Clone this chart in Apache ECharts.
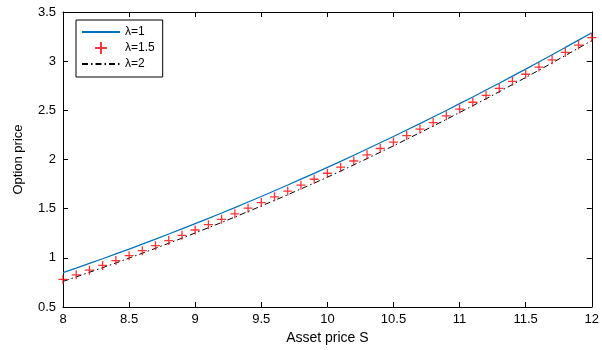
<!DOCTYPE html>
<html>
<head>
<meta charset="utf-8">
<script src="https://cdn.jsdelivr.net/npm/echarts@6/dist/echarts.min.js"></script>
<style>html,body{margin:0;padding:0;background:#fff}#c{width:602px;height:350px}</style>
</head>
<body>
<div id="c"></div>
<script>
var assetPrices = [8.0,8.1,8.2,8.3,8.4,8.5,8.6,8.7,8.8,8.9,9.0,9.1,9.2,9.3,9.4,9.5,9.6,9.7,9.8,9.9,10.0,10.1,10.2,10.3,10.4,10.5,10.6,10.7,10.8,10.9,11.0,11.1,11.2,11.3,11.4,11.5,11.6,11.7,11.8,11.9,12.0];
var lambda1 = [0.850,0.896,0.944,0.991,1.040,1.089,1.140,1.190,1.242,1.294,1.348,1.401,1.456,1.511,1.568,1.624,1.682,1.740,1.800,1.859,1.920,1.981,2.044,2.106,2.170,2.234,2.300,2.365,2.432,2.499,2.568,2.636,2.706,2.776,2.848,2.919,2.992,3.065,3.140,3.214,3.290];
var lambda15 = [0.780,0.827,0.875,0.923,0.972,1.022,1.073,1.124,1.176,1.229,1.283,1.337,1.392,1.448,1.505,1.562,1.620,1.679,1.739,1.799,1.860,1.922,1.985,2.048,2.112,2.177,2.243,2.309,2.376,2.444,2.513,2.582,2.652,2.723,2.795,2.867,2.940,3.014,3.089,3.164,3.240];
var lambda2 = [0.760,0.806,0.853,0.900,0.948,0.997,1.047,1.097,1.148,1.200,1.253,1.306,1.360,1.415,1.471,1.527,1.584,1.642,1.701,1.760,1.820,1.882,1.946,2.009,2.074,2.139,2.206,2.272,2.340,2.408,2.478,2.547,2.618,2.689,2.762,2.834,2.908,2.982,3.058,3.133,3.210];
var seriesNames = ['\u03bb=1','\u03bb=1.5','\u03bb=2'];
var xTicks = {min:8, max:12, interval:0.5};
var yTicks = {min:0.5, max:3.5, interval:0.5};

function pairs(xs, ys){ return xs.map(function(x,i){ return [x, ys[i]]; }); }

var font = 'Liberation Sans, Arial, Helvetica, sans-serif';
var chart = echarts.init(document.getElementById('c'), null, {renderer:'canvas'});
var axisCommon = {
  axisLine:{show:true, lineStyle:{color:'#000', width:1}},
  axisTick:{show:true, inside:true, length:5, lineStyle:{color:'#000'}},
  splitLine:{show:false}
};
chart.setOption({
  animation:false,
  backgroundColor:'#fff',
  grid:{left:63, right:5, top:12, bottom:40, containLabel:false},
  legend:{
    orient:'vertical', left:76, top:20,
    backgroundColor:'#fff', borderColor:'#000', borderWidth:1,
    padding:[6,8,7,5], itemGap:3, itemWidth:38, itemHeight:12,
    textStyle:{fontFamily:font, fontSize:12, color:'#000'},
    data:[
      {name:seriesNames[0], itemStyle:{opacity:0}},
      {name:seriesNames[1]},
      {name:seriesNames[2], itemStyle:{opacity:0}}
    ]
  },
  xAxis:[
    Object.assign({type:'value', min:xTicks.min, max:xTicks.max, interval:xTicks.interval,
      name:'Asset price S', nameLocation:'middle', nameGap:24,
      nameTextStyle:{fontFamily:font, fontSize:14, color:'#000'},
      axisLabel:{fontFamily:font, fontSize:13, color:'#000', margin:6}}, axisCommon),
    Object.assign({type:'value', position:'top', min:xTicks.min, max:xTicks.max, interval:xTicks.interval,
      axisLabel:{show:false}}, axisCommon)
  ],
  yAxis:[
    Object.assign({type:'value', min:yTicks.min, max:yTicks.max, interval:yTicks.interval,
      name:'Option price', nameLocation:'middle', nameGap:38, nameRotate:90,
      nameTextStyle:{fontFamily:font, fontSize:13, color:'#000'},
      axisLabel:{fontFamily:font, fontSize:13, color:'#000', margin:7}}, axisCommon),
    Object.assign({type:'value', position:'right', min:yTicks.min, max:yTicks.max, interval:yTicks.interval,
      axisLabel:{show:false}}, axisCommon)
  ],
  series:[
    {name:seriesNames[0], type:'line', data:pairs(assetPrices, lambda1), symbol:'none',
      lineStyle:{color:'#0072BD', width:1.2}, itemStyle:{color:'#0072BD'}, z:3},
    {name:seriesNames[1], type:'scatter', data:pairs(assetPrices, lambda15),
      symbol:'path://M0,5L10,5M5,0L5,10', symbolSize:9,
      itemStyle:{color:'rgba(0,0,0,0)', borderColor:'#FF0000', borderWidth:1.3}, z:4},
    {name:seriesNames[2], type:'line', data:pairs(assetPrices, lambda2), symbol:'none',
      lineStyle:{color:'#000', width:1, type:[6,3,1.5,3]}, itemStyle:{color:'#000'}, z:2}
  ]
});
</script>
</body>
</html>
